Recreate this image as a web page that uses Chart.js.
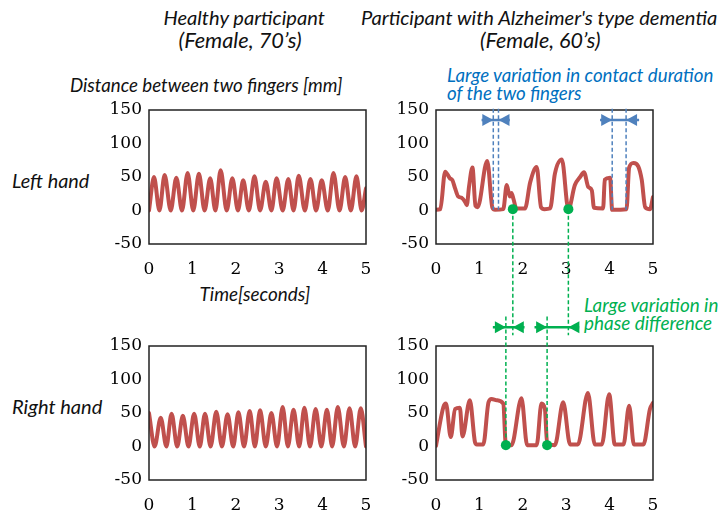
<!DOCTYPE html>
<html>
<head>
<meta charset="utf-8">
<script src="https://cdn.jsdelivr.net/npm/chart.js@4"></script>
<style>
    body { margin: 0; width: 725px; height: 516px; position: relative; overflow: hidden; background: #fff; font-family: Lato, "Open Sans", sans-serif; }
    .lbl { position: absolute; font-style: italic; white-space: nowrap; color: #111; font-size: 17px; line-height: 20px; }
    canvas { position: absolute; }
</style>
</head>
<body>
<!-- data-w: target text width, data-cx: horizontal centre -->
<div class="lbl" data-w="162" data-cx="244" style="top:7px">Healthy participant</div>
<div class="lbl" data-w="123" data-cx="240" style="top:30px">(Female, 70’s)</div>
<div class="lbl" data-w="356" style="left:361px;top:7px">Participant with Alzheimer's type dementia</div>
<div class="lbl" data-w="120" data-cx="540" style="top:30px">(Female, 60’s)</div>
<div class="lbl" data-w="273" style="left:70px;top:75px">Distance between two fingers [mm]</div>
<div class="lbl" data-w="267" style="left:447px;top:65px;color:#0070C0">Large variation in contact duration</div>
<div class="lbl" data-w="135" style="left:447px;top:83px;color:#0070C0">of the two fingers</div>
<div class="lbl" data-w="77" style="left:12px;top:170px">Left hand</div>
<div class="lbl" data-w="91" style="left:12px;top:396px">Right hand</div>
<div class="lbl" data-w="111" data-cx="255" style="top:284px">Time[seconds]</div>
<div class="lbl" data-w="134" style="left:584px;top:295px;color:#00B050">Large variation in</div>
<div class="lbl" data-w="128" style="left:584px;top:313px;color:#00B050">phase difference</div>

<canvas id="healthyLeft" width="275" height="185" style="left:100px;top:100px"></canvas>
<canvas id="alzLeft" width="275" height="185" style="left:387px;top:100px"></canvas>
<canvas id="healthyRight" width="275" height="185" style="left:100px;top:336px"></canvas>
<canvas id="alzRight" width="275" height="185" style="left:387px;top:336px"></canvas>
<canvas id="overlay" width="725" height="516" style="left:0;top:0;pointer-events:none"></canvas>

<script>
// axis ticks
const xTicks = [0, 1, 2, 3, 4, 5];
const yTicks = [-50, 0, 50, 100, 150];

// distance between fingers [mm] vs time [s]
const healthyLeftT = [0, 0.115, 0.24, 0.36, 0.5, 0.63, 0.76, 0.89, 1.02, 1.15, 1.28, 1.41, 1.53, 1.65, 1.79, 1.92, 2.05, 2.17, 2.3, 2.43,
    2.56, 2.69, 2.82, 2.94, 3.08, 3.21, 3.33, 3.45, 3.59, 3.72, 3.85, 3.98, 4.12, 4.25, 4.39, 4.52, 4.65, 4.78, 4.9, 5.0];
const healthyLeftV = [0, 50, 0, 53, 0, 49, 0, 56, 0, 55, 0, 48, 0, 60, 0, 48, 0, 45, 0, 51,
    0, 43, 0, 48, 0, 47, 0, 52, 0, 47, 0, 45, 0, 56, 0, 50, 0, 51, 0, 33];

const healthyRightT = [0, 0.13, 0.27, 0.4, 0.52, 0.65, 0.78, 0.91, 1.04, 1.17, 1.29, 1.42, 1.55, 1.68, 1.81, 1.94, 2.06, 2.19, 2.32, 2.44,
    2.56, 2.69, 2.82, 2.95, 3.08, 3.2, 3.33, 3.46, 3.58, 3.71, 3.84, 3.97, 4.1, 4.22, 4.35, 4.49, 4.62, 4.75, 4.88, 5.0];
const healthyRightV = [50, 0, 43, 0, 49, 0, 46, 0, 49, 0, 49, 0, 52, 0, 48, 0, 51, 0, 53, 0,
    54, 0, 50, 0, 59, 0, 55, 0, 58, 0, 56, 0, 55, 0, 59, 0, 57, 0, 57, 0];

const alzLeftT = [0, 0.1, 0.21, 0.32, 0.38, 0.44, 0.51, 0.59, 0.67, 0.71,
    0.76, 0.84, 0.91, 0.96, 1.18, 1.3, 1.36, 1.55, 1.63, 1.7,
    1.74, 1.79, 1.85, 2.05, 2.17, 2.32, 2.42, 2.5, 2.63, 2.74,
    2.9, 3.05, 3.2, 3.32, 3.41, 3.51, 3.59, 3.64, 3.85, 3.89,
    4.01, 4.06, 4.39, 4.45, 4.55, 4.66, 4.74, 4.82, 4.93, 5.0];
const alzLeftV = [1, 2, 58, 48, 45, 33, 21, 19, 13, 8,
    35, 64, 7, 5, 74, 4, 1, 2, 38, 21,
    26, 16, 3, 3, 42, 65, 5, 2, 3, 55,
    76, 2, 38, 50, 57, 35, 30, 4, 3, 46,
    49, 1, 2, 64, 71, 66, 46, 5, 2, 20];

const alzRightT = [0, 0.17, 0.23, 0.34, 0.44, 0.55, 0.61, 0.78, 0.9, 0.94,
    1.09, 1.21, 1.28, 1.4, 1.55, 1.61, 1.74, 1.97, 2.1, 2.32,
    2.43, 2.51, 2.56, 2.74, 2.93, 3.09, 3.27, 3.5, 3.66, 3.82,
    3.99, 4.12, 4.32, 4.45, 4.56, 4.78, 4.93, 5.0];
const alzRightV = [1, 59, 64, 14, 56, 58, 15, 69, 6, 3,
    3, 66, 71, 69, 64, 2, 2, 72, 2, 2,
    64, 56, 4, 2, 66, 3, 3, 80, 3, 3,
    78, 3, 3, 61, 3, 3, 56, 65];

// annotated events (seconds)
const topDotT = [1.77, 3.05];          // left hand touch points
const bottomDotT = [1.61, 2.56];       // right hand touch points
const contactEdges = [[1.32, 1.44], [4.06, 4.38]];
const contactSpans = [[1.05, 1.70], [3.78, 4.68]];
const phaseSpans = [[1.31, 2.04], [2.27, 3.30]];

const RED = '#C0504D';
const GREEN = '#00B050';
const BLUE = '#4F81BD';

// size the italic labels to the widths measured on the figure
document.querySelectorAll('.lbl').forEach(el => {
    const w = +el.dataset.w;
    el.style.fontSize = (17 * w / el.offsetWidth).toFixed(2) + 'px';
    if (el.dataset.cx) el.style.left = (el.dataset.cx - el.offsetWidth / 2) + 'px';
});

// black frame round the plot area
const frame = {
    id: 'frame',
    afterDraw(c) {
        const a = c.chartArea, ctx = c.ctx;
        ctx.save();
        ctx.strokeStyle = '#222';
        ctx.lineWidth = 1.5;
        ctx.strokeRect(a.left, a.top, a.right - a.left, a.bottom - a.top);
        ctx.restore();
    }
};

const tickFont = { family: "'DejaVu Serif', 'Liberation Serif', serif", size: 17 };

function makeChart(id, ts, vs, dots) {
    const datasets = [{
        data: ts.map((t, i) => ({ x: t, y: vs[i] })),
        borderColor: RED,
        borderWidth: 4,
        borderJoinStyle: 'round',
        borderCapStyle: 'round',
        pointRadius: 0,
        cubicInterpolationMode: 'monotone',
        order: 1
    }];
    if (dots) {
        datasets.push({
            data: dots.map(t => ({ x: t, y: 2 })),
            showLine: false,
            pointRadius: 5,
            pointBackgroundColor: GREEN,
            pointBorderWidth: 0,
            order: 0
        });
    }
    return new Chart(document.getElementById(id), {
        type: 'line',
        data: { datasets },
        options: {
            responsive: false,
            animation: false,
            events: [],
            layout: { padding: { top: 10, right: 9, left: 0, bottom: 0 } },
            plugins: { legend: { display: false }, tooltip: { enabled: false } },
            scales: {
                x: {
                    type: 'linear', min: 0, max: 5,
                    grid: { display: false, drawTicks: false },
                    border: { display: false },
                    ticks: { font: tickFont, color: '#000', padding: 15, maxRotation: 0 },
                    afterBuildTicks: s => { s.ticks = xTicks.map(v => ({ value: v })); },
                    afterFit: s => { s.height = 41; s.paddingLeft = 0; s.paddingRight = 0; }
                },
                y: {
                    min: -50, max: 150,
                    grid: { display: false, drawTicks: false },
                    border: { display: false },
                    ticks: { font: tickFont, color: '#000', padding: 7 },
                    afterBuildTicks: s => { s.ticks = yTicks.map(v => ({ value: v })); },
                    afterFit: s => { s.width = 49; s.paddingTop = 0; s.paddingBottom = 0; }
                }
            }
        },
        plugins: [frame]
    });
}

makeChart('healthyLeft', healthyLeftT, healthyLeftV);
const alzLeft = makeChart('alzLeft', alzLeftT, alzLeftV, topDotT);
makeChart('healthyRight', healthyRightT, healthyRightV);
const alzRight = makeChart('alzRight', alzRightT, alzRightV, bottomDotT);

// annotations across the two dementia charts
const px = (c, t) => c.canvas.offsetLeft + c.scales.x.getPixelForValue(t);
const py = (c, v) => c.canvas.offsetTop + c.scales.y.getPixelForValue(v);

const octx = document.getElementById('overlay').getContext('2d');

function dashed(x, y0, y1, color) {
    octx.save();
    octx.strokeStyle = color;
    octx.lineWidth = 1.5;
    octx.setLineDash([4, 2.5]);
    octx.beginPath();
    octx.moveTo(x, y0);
    octx.lineTo(x, y1);
    octx.stroke();
    octx.restore();
}

function head(x, y, dir, color) {
    octx.fillStyle = color;
    octx.beginPath();
    octx.moveTo(x, y);
    octx.lineTo(x - dir * 11, y - 6);
    octx.lineTo(x - dir * 11, y + 6);
    octx.closePath();
    octx.fill();
}

function arrows(x0, x1, tipA, tipB, y, color) {
    octx.save();
    octx.strokeStyle = color;
    octx.lineWidth = 2.5;
    octx.beginPath();
    octx.moveTo(x0, y);
    octx.lineTo(x1, y);
    octx.stroke();
    head(tipA, y, 1, color);
    head(tipB, y, -1, color);
    octx.restore();
}

// contact duration (blue)
contactEdges.forEach((edges, i) => {
    edges.forEach(t => dashed(px(alzLeft, t), py(alzLeft, 152), py(alzLeft, 1), BLUE));
    const y = py(alzLeft, 135);
    arrows(px(alzLeft, contactSpans[i][0]), px(alzLeft, contactSpans[i][1]),
        px(alzLeft, edges[0]), px(alzLeft, edges[1]), y, BLUE);
});

// phase difference (green)
topDotT.forEach(t => dashed(px(alzLeft, t), py(alzLeft, 2), py(alzRight, 166), GREEN));
bottomDotT.forEach(t => dashed(px(alzRight, t), py(alzRight, 194), py(alzRight, 2), GREEN));
phaseSpans.forEach((span, i) => {
    arrows(px(alzRight, span[0]), px(alzRight, span[1]),
        px(alzRight, bottomDotT[i]), px(alzRight, topDotT[i]), py(alzRight, 178), GREEN);
});
</script>
</body>
</html>
